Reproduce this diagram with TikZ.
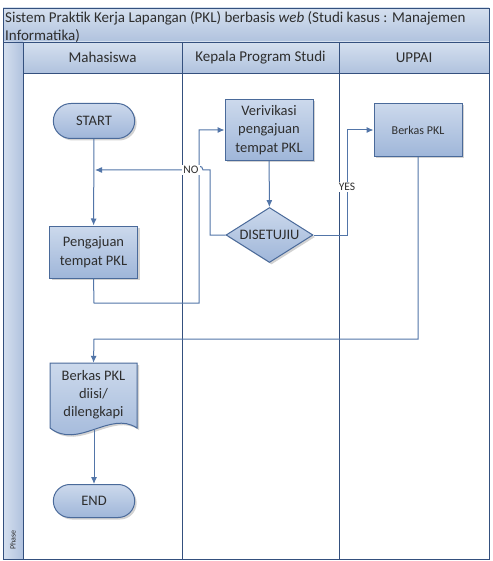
\documentclass[tikz,border=0pt]{standalone}
\usepackage{fontspec}
\setmainfont{Carlito}
\usepackage{xcolor}
\usepackage{tikz}
\usetikzlibrary{shapes.geometric,shapes.misc,shadows,arrows.meta}

\definecolor{laneline}{HTML}{34507E}
\definecolor{flowline}{HTML}{5275A8}
\definecolor{boxedge}{HTML}{4A6A9A}
\definecolor{boxtop}{HTML}{CCD9EC}
\definecolor{boxbot}{HTML}{9FB6D9}
\definecolor{headtop}{HTML}{D5E0EF}
\definecolor{headbot}{HTML}{B0C2DE}
\definecolor{inktext}{HTML}{2E2E2E}

\begin{document}
\begin{tikzpicture}[x=1pt, y=-1pt, text=inktext,
		shadowed/.style={drop shadow={shadow xshift=2pt, shadow yshift=-2pt, opacity=.35}},
		box/.style={draw=boxedge, line width=1pt, top color=boxtop, bottom color=boxbot, shadowed, align=center, font=\fontsize{14.5}{18.5}\selectfont},
		term/.style={box, rounded rectangle, minimum width=88pt, minimum height=35pt},
		proc/.style={box, rectangle, minimum width=88pt},
		cond/.style={box, diamond, aspect=1.6, minimum width=87pt, minimum height=55pt, inner sep=0pt},
		flow/.style={draw=flowline, line width=1pt, -{Latex[length=7pt,width=6pt]}},
		lane/.style={draw=laneline, line width=.8pt},
		head/.style={font=\fontsize{15}{18}\selectfont},
		tag/.style={fill=white, inner sep=1pt, font=\fontsize{11.5}{13}\selectfont}]
	\fill[white] (0,0) rectangle (492,561);
	\useasboundingbox (0,0) rectangle (492,561);
	\shade[top color=headtop, bottom color=headbot] (3,8) rectangle (489,42);
	\shade[top color=headtop, bottom color=headbot] (23,42) rectangle (489,73);
	\shade[left color=headtop, right color=headbot] (3,42) rectangle (23,559);
	\draw[lane] (3,8) rectangle (489,559);
	\draw[lane] (3,42) -- (489,42);
	\draw[lane] (23,73) -- (489,73);
	\draw[lane] (23,42) -- (23,559);
	\draw[lane] (182,42) -- (182,559);
	\draw[lane] (339,42) -- (339,559);
	\node[anchor=north west, align=left, inner sep=0pt, head] (title) at (5,11) {Sistem Praktik Kerja Lapangan (PKL) berbasis \emph{web} (Studi kasus : Manajemen\\Informatika)};
	\node[head] (mhs) at (102.5,57.5) {Mahasiswa};
	\node[head] (kaprodi) at (260.5,57.5) {Kepala Program Studi};
	\node[head] (uppai) at (414,57.5) {UPPAI};
	\node[rotate=90, font=\fontsize{8}{9}\selectfont] (phase) at (13,540) {Phase};
	
	\node[term] (start) at (94,121) {START};
	\node[proc, minimum height=52pt] (ajuan) at (93.5,252) {Pengajuan\\tempat PKL};
	\node[proc, minimum height=61pt] (verif) at (269,130) {Verivikasi\\pengajuan\\tempat PKL};
	\node[cond] (setuju) at (269.5,235) {DISETUJIU};
	\node[proc, minimum height=53pt, font=\fontsize{12}{14}\selectfont] (berkas) at (418,130) {Berkas PKL};
	\shade[draw=boxedge, line width=1pt, top color=boxtop, bottom color=boxbot, shadowed] (50,363) -- (137,363) -- (137,428) .. controls (110,410) and (78,450) .. (50,428) -- cycle;
	\node[align=center, minimum width=87pt, minimum height=64pt, inner sep=0pt, font=\fontsize{14.5}{18}\selectfont] (isi) at (93.5,395) {Berkas PKL\\diisi/\\dilengkapi};
	\node[term, minimum height=33pt] (end) at (94,501) {END};
	\coordinate (noend) at (95,170);
	
	\draw[flow] (start) -- (ajuan);
	\draw[flow] (ajuan.south) -- (94,303) -- (199,303) -- (199,130) -- (verif.west);
	\draw[flow] (verif) -- (setuju);
	\draw[flow] (setuju.west) -- (210,235) -- (210,170) -- (203,170) arc[start angle=0, end angle=-180, radius=4] -- (noend);
	\node[tag] (no) at (191,170) {NO};
	\draw[flow] (setuju.east) -- (347,235) -- (347,130) -- (berkas.west);
	\node[tag] (yes) at (347,187) {YES};
	\draw[flow] (berkas.south) -- (418,339) -- (94,339) -- (isi.north);
	\draw[flow] (94,430) -- (end.north);
\end{tikzpicture}
\end{document}
